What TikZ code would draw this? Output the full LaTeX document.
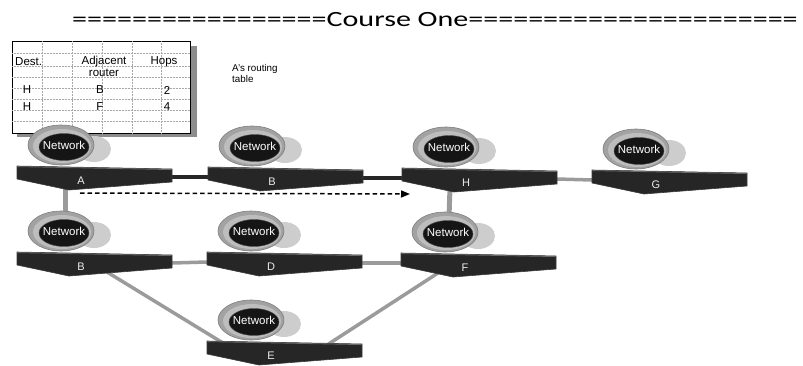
\documentclass[tikz,border=0pt]{standalone}
\usepackage{graphicx}
\usepackage{fontspec}
\setmainfont{Liberation Sans}
\newfontfamily\titlefont{Carlito}
\usetikzlibrary{arrows.meta}

\pgfdeclarelayer{links}
\pgfsetlayers{links,main}

\definecolor{routerdark}{HTML}{262626}
\definecolor{routeredge}{HTML}{3A3A3A}
\definecolor{routertopc}{HTML}{6A6A6A}
\definecolor{ringgray}{HTML}{A2A2A2}
\definecolor{ringedge}{HTML}{7E7E7E}
\definecolor{ringlight}{HTML}{BDBDBD}
\definecolor{netdark}{HTML}{151515}
\definecolor{netshadow}{HTML}{CDCDCD}
\definecolor{lanline}{HTML}{9B9B9B}
\definecolor{tableshadow}{HTML}{8C8C8C}
\definecolor{gridgray}{HTML}{A8A8A8}

\tikzset{
  routerbody/.style={fill=routerdark, draw=routeredge, line width=0.6pt, line join=round},
  routertop/.style={draw=routertopc, line width=0.8pt},
  nettext/.style={text=white, inner sep=0pt, font=\fontsize{11.5}{12}\selectfont},
  routerlabel/.style={text=white!92!black, inner sep=0pt, font=\fontsize{11}{11}\selectfont},
  tabletext/.style={inner sep=0pt, font=\fontsize{11.5}{11.5}\selectfont},
  gridline/.style={draw=gridgray, line width=0.5pt, densely dotted},
  trunk/.style={draw=black!85, line width=3.5pt},
  lan/.style={draw=lanline, line width=3.5pt},
  riser/.style={draw=lanline, line width=5pt},
  pathhint/.style={draw=black, line width=1.5pt, dash pattern=on 4.5pt off 3pt,
    -{Triangle[length=9pt,width=7pt]}},
  % a router box with its attached network
  router/.pic={
    \fill[netshadow] (77,-17) ellipse [x radius=17pt, y radius=13pt];
    \filldraw[fill=ringgray, draw=ringedge, line width=0.6pt] (44,-21) ellipse [x radius=33pt, y radius=20pt];
    \fill[ringlight] (45,-20) ellipse [x radius=29pt, y radius=17pt];
    \filldraw[fill=netdark, draw=black!70] (47,-19) ellipse [x radius=25pt, y radius=13.5pt];
    \node[nettext] (-net) at (47,-21) {Network};
    \path[routerbody] (0,0) -- (155,3) -- (155,16) -- (52,24) -- (0,13) -- cycle;
    \draw[routertop] (0.5,0.6) -- (154.5,3.6);
    \node[routerlabel] (-lbl) at (64,15) {#1};
    \coordinate (-e) at (155,11);
    \coordinate (-w) at (0,10);
    \coordinate (-s) at (48,20);
    \coordinate (-n) at (48,-36);
    \coordinate (-dl) at (37,20);
    \coordinate (-dr) at (90,20);
    \coordinate (-nw) at (16,2);
    \coordinate (-ne) at (120,4);
    \coordinate (-u) at (63,27);
    \coordinate (-uw) at (8,26);
  }
}

\begin{document}
\begin{tikzpicture}[x=1pt,y=-1pt]
\useasboundingbox (0,0) rectangle (803,365);

% heading line
\node[anchor=base west, inner sep=0pt] (title) at (72,26)
  {\titlefont\fontsize{21.7}{22}\selectfont\scalebox{1.385}[1]{=================Course One======================}};

% routing table of router A
\fill[tableshadow] (190,46) rectangle (197,137);
\fill[tableshadow] (17,133) rectangle (197,137);
\draw[fill=white, line width=0.9pt] (12,41) rectangle (190,133);
\foreach \gx in {42,72,102,132,161} \draw[gridline] (\gx,41) -- (\gx,133);
\foreach \gy in {53,66,77,88,99,110,121} \draw[gridline] (12,\gy) -- (190,\gy);
\node[tabletext, anchor=west] (hdest) at (15,62) {Dest.};
\node[tabletext] (hadj) at (104,62) {Adjacent};
\node[tabletext] (hadj2) at (104,73) {router};
\node[tabletext] (hhops) at (164,62) {Hops};
\node[tabletext] (r1d) at (27,90) {H};
\node[tabletext] (r1a) at (100,90) {B};
\node[tabletext] (r1h) at (167,90) {2};
\node[tabletext] (r2d) at (27,107) {H};
\node[tabletext] (r2a) at (100,107) {F};
\node[tabletext] (r2h) at (167,107) {4};
\node[anchor=north west, align=left, inner sep=0pt,
      font=\fontsize{9.8}{11}\selectfont] (caption) at (232,64) {A's routing\\table};

% routers with their networks
\pic (A)  at (17,166)  {router=A};
\pic (Bt) at (208,167) {router=B};
\pic (H)  at (402,168) {router=H};
\pic (G)  at (592,170) {router=G};
\pic (Bb) at (17,252)  {router=B};
\pic (D)  at (207,252) {router=D};
\pic (F)  at (401,253) {router=F};
\pic (E)  at (207,341) {router=E};

% links between routers
\begin{pgfonlayer}{links}
  \draw[trunk] (A-e) -- (Bt-w);
  \draw[trunk] (Bt-e) -- (H-w);
  \draw[lan] (H-e) -- (G-w);
  \draw[riser] (A-s) -- (Bb-n);
  \draw[riser] (H-s) -- (F-n);
  \draw[lan] (Bb-e) -- (D-w);
  \draw[lan] (D-e) -- (F-w);
  \draw[lan] (Bb-dr) -- (E-nw);
  \draw[lan] (F-dl) -- (E-ne);
\end{pgfonlayer}

% route taken towards H
\draw[pathhint] (A-u) -- (H-uw);
\end{tikzpicture}
\end{document}
